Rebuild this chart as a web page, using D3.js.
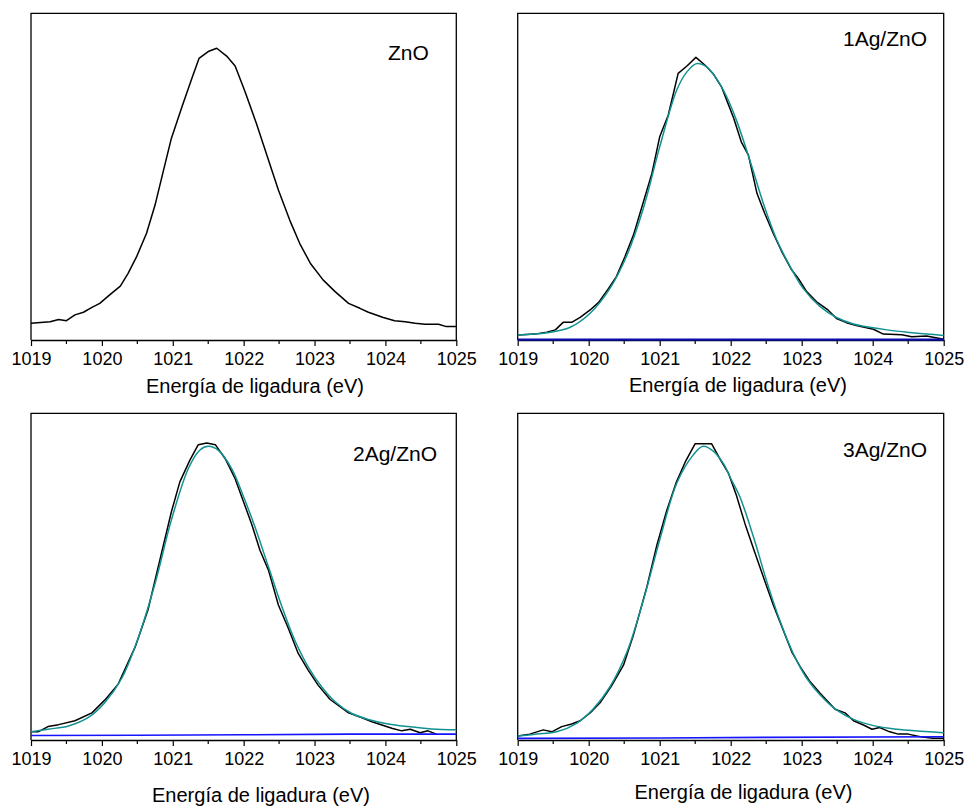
<!DOCTYPE html>
<html><head><meta charset="utf-8">
<script src="https://cdn.jsdelivr.net/npm/d3@7"></script>
<style>
body{margin:0;background:#fff}
svg text{font-family:Arial,"Liberation Sans",sans-serif;fill:#000}
</style>
</head><body>
<svg id="chart" width="966" height="809"></svg>
<script>
// ---------- data ----------
const tickValues = [1019, 1020, 1021, 1022, 1023, 1024, 1025];
const tickLabels = ["1019", "1020", "1021", "1022", "1023", "1024", "1025"];
const minorTicks = [1019.5, 1020.5, 1021.5, 1022.5, 1023.5, 1024.5];
const xTitle = "Energía de ligadura (eV)";
const sampleNames = ["ZnO", "1Ag/ZnO", "2Ag/ZnO", "3Ag/ZnO"];

// ZnO (experimental only)
const znoE = [1019.0,1019.27,1019.39,1019.50,1019.62,1019.74,1019.86,1019.97,1020.11,1020.26,1020.37,1020.49,1020.63,1020.75,1020.87,1020.98,1021.13,1021.27,1021.37,1021.50,1021.62,1021.76,1021.88,1022.02,1022.18,1022.35,1022.49,1022.65,1022.79,1022.94,1023.12,1023.29,1023.48,1023.64,1023.76,1023.97,1024.13,1024.28,1024.42,1024.56,1024.75,1024.86,1025.0];
const znoI = [5.1,5.6,6.3,5.9,7.7,8.5,10.0,11.2,13.8,16.5,20.4,25.5,32.7,41.3,52.0,61.7,71.4,80.1,86.2,88.3,89.3,86.9,83.9,76.0,66.3,55.1,45.9,36.7,29.6,23.5,18.4,14.8,11.2,9.7,8.5,6.9,5.9,5.6,5.1,4.8,4.8,4.1,4.1];

// 1Ag/ZnO
const ag1E = [1019.0,1019.24,1019.41,1019.53,1019.64,1019.76,1019.88,1020.02,1020.14,1020.28,1020.39,1020.51,1020.63,1020.75,1020.89,1021.00,1021.12,1021.26,1021.38,1021.51,1021.64,1021.75,1021.87,1021.96,1022.04,1022.15,1022.25,1022.37,1022.48,1022.60,1022.72,1022.86,1022.95,1023.07,1023.21,1023.37,1023.49,1023.63,1023.77,1024.01,1024.15,1024.41,1024.55,1024.76,1025.0];
const ag1I = [1.5,1.8,2.4,3.1,5.4,5.4,6.9,9.2,11.5,15.8,19.4,25.5,32.1,40.8,51.0,62.2,68.8,81.6,83.8,86.5,84.1,81.6,77.5,72.5,68.0,60.6,56.6,44.9,38.7,32.6,27.0,21.4,18.9,14.8,11.7,9.2,6.6,5.3,4.4,3.3,1.8,1.6,1.0,1.2,0.2];
const ag1FitE = [1019.0,1019.41,1019.74,1020.02,1020.30,1020.54,1020.77,1021.00,1021.24,1021.38,1021.52,1021.66,1021.80,1021.94,1022.08,1022.27,1022.46,1022.65,1022.84,1023.02,1023.26,1023.49,1023.73,1023.96,1024.20,1024.48,1024.76,1025.0];
const ag1FitI = [1.5,2.2,3.9,8.2,15.8,26.0,40.3,59.1,76.5,82.0,84.6,83.6,80.0,74.6,67.3,55.0,41.8,30.6,22.4,15.8,10.2,6.9,4.9,3.9,3.1,2.4,1.8,1.4];
const ag1BgE = [1019.0, 1025.0];
const ag1BgI = [0.1, 0.1];

// 2Ag/ZnO
const ag2E = [1019.0,1019.10,1019.24,1019.39,1019.62,1019.86,1020.04,1020.23,1020.47,1020.65,1020.84,1020.98,1021.10,1021.24,1021.36,1021.48,1021.60,1021.74,1021.88,1021.99,1022.11,1022.23,1022.35,1022.49,1022.63,1022.77,1022.91,1023.05,1023.22,1023.48,1023.66,1023.81,1023.95,1024.09,1024.23,1024.35,1024.49,1024.60,1024.72];
const ag2I = [2.5,2.5,4.1,4.7,5.9,8.3,12.2,17.1,28.5,39.8,57.1,69.8,79.0,85.6,90.4,90.9,90.4,86.1,80.0,73.4,66.3,58.1,52.0,41.3,34.2,26.5,21.4,16.8,12.4,8.3,6.9,5.6,4.6,3.6,2.8,3.3,2.2,2.8,1.8];
const ag2FitE = [1019.0,1019.24,1019.53,1019.81,1020.04,1020.28,1020.51,1020.75,1020.98,1021.22,1021.38,1021.50,1021.64,1021.83,1022.00,1022.16,1022.35,1022.54,1022.72,1022.91,1023.10,1023.29,1023.52,1023.76,1024.04,1024.32,1024.65,1025.0];
const ag2FitI = [2.5,3.3,4.3,6.9,11.4,18.9,31.1,47.9,67.3,83.1,88.7,89.9,88.7,83.1,74.4,65.2,53.0,40.8,30.6,22.4,16.3,11.7,8.2,6.3,4.9,4.1,3.4,3.1];
const ag2BgE = [1019.0, 1020.5, 1022.0, 1023.5, 1025.0];
const ag2BgI = [1.4, 1.45, 1.6, 1.8, 1.8];

// 3Ag/ZnO
const ag3E = [1019.0,1019.17,1019.36,1019.48,1019.62,1019.76,1019.88,1020.02,1020.16,1020.32,1020.49,1020.63,1020.82,1020.96,1021.10,1021.23,1021.36,1021.50,1021.73,1021.86,1021.97,1022.08,1022.20,1022.32,1022.46,1022.60,1022.74,1022.86,1022.98,1023.12,1023.26,1023.47,1023.61,1023.73,1023.87,1023.99,1024.10,1024.24,1024.36,1024.50,1024.67,1024.85,1025.0];
const ag3I = [1.2,1.8,3.1,2.5,4.1,4.9,5.9,8.3,11.4,16.5,22.9,32.1,46.9,59.6,70.3,78.7,85.1,90.7,90.7,85.6,81.6,74.9,66.3,58.6,49.9,41.3,33.6,27.0,22.4,17.8,14.3,9.4,8.3,5.9,4.6,3.3,3.8,2.5,1.8,1.8,1.0,0.5,0.5];
const ag3FitE = [1019.0,1019.27,1019.55,1019.83,1020.06,1020.30,1020.54,1020.77,1021.00,1021.24,1021.47,1021.61,1021.75,1021.90,1021.99,1022.13,1022.32,1022.51,1022.69,1022.88,1023.07,1023.26,1023.49,1023.73,1024.01,1024.34,1024.67,1025.0];
const ag3FitI = [1.2,1.8,2.5,5.1,9.4,16.3,27.0,42.8,61.2,78.6,87.2,89.9,88.5,84.5,80.5,74.4,62.2,48.4,36.7,26.5,18.9,13.8,9.2,6.3,4.4,3.3,2.7,2.2];
const ag3BgE = [1019.0, 1021.0, 1022.5, 1025.0];
const ag3BgI = [0.5, 0.6, 0.8, 1.0];

// ---------- layout ----------
const panels = [
  {name: sampleNames[0], left: 31, right: 456.3, top: 13.3, bottom: 340, titleX: 255, titleY: 393, labX: 388, labY: 60,
   exp: [znoE, znoI], fit: null, bg: null, bgColor: null, bgWidth: 0},
  {name: sampleNames[1], left: 517.7, right: 943.7, top: 13.3, bottom: 340, titleX: 738, titleY: 392, labX: 843, labY: 45.7,
   exp: [ag1E, ag1I], fit: [ag1FitE, ag1FitI], bg: [ag1BgE, ag1BgI], bgColor: "#0c0caa", bgWidth: 2.2},
  {name: sampleNames[2], left: 31, right: 456.3, top: 413.3, bottom: 740, titleX: 261, titleY: 801.5, labX: 353, labY: 461,
   exp: [ag2E, ag2I], fit: [ag2FitE, ag2FitI], bg: [ag2BgE, ag2BgI], bgColor: "#1414ff", bgWidth: 1.6},
  {name: sampleNames[3], left: 517.7, right: 943.7, top: 413.3, bottom: 740, titleX: 743.5, titleY: 798.5, labX: 843, labY: 456.7,
   exp: [ag3E, ag3I], fit: [ag3FitE, ag3FitI], bg: [ag3BgE, ag3BgI], bgColor: "#1414ff", bgWidth: 1.6}
];

const svg = d3.select("#chart");
const font = 'Arial, "Liberation Sans", sans-serif';

panels.forEach(p => {
  const x = d3.scaleLinear().domain([1019, 1025]).range([p.left, p.right]);
  const y = d3.scaleLinear().domain([0, 100]).range([p.bottom, p.top]);
  const g = svg.append("g");

  const line = d3.line().x(d => x(d[0])).y(d => y(d[1]));
  const smooth = d3.line().x(d => x(d[0])).y(d => y(d[1])).curve(d3.curveCatmullRom.alpha(0.5));
  const zip = (a) => a[0].map((e, i) => [e, a[1][i]]);

  // frame (left, top, right)
  g.append("path")
    .attr("d", `M${p.left},${p.bottom}V${p.top}H${p.right}V${p.bottom}`)
    .attr("fill", "none").attr("stroke", "#000").attr("stroke-width", 1.3);

  // bottom axis
  const axis = d3.axisBottom(x).tickValues(tickValues)
    .tickFormat((d, i) => tickLabels[i]).tickSizeInner(6).tickSizeOuter(0).tickPadding(6);
  const ax = g.append("g").attr("transform", `translate(0,${p.bottom})`).call(axis);
  ax.select(".domain").attr("stroke", "#000").attr("stroke-width", 1.3);
  ax.selectAll(".tick line").attr("stroke", "#000").attr("stroke-width", 1.2);
  ax.selectAll(".tick text").attr("font-size", 18).attr("font-family", font).attr("fill", "#000");
  ax.selectAll(".minor").data(minorTicks).enter().append("line")
    .attr("class", "minor")
    .attr("x1", d => x(d)).attr("x2", d => x(d)).attr("y1", 0).attr("y2", 4)
    .attr("stroke", "#000").attr("stroke-width", 1.2);

  // experimental curve
  g.append("path").datum(zip(p.exp)).attr("d", line)
    .attr("fill", "none").attr("stroke", "#000").attr("stroke-width", 1.5).attr("stroke-linejoin", "round");
  // fit
  if (p.fit) {
    g.append("path").datum(zip(p.fit)).attr("d", smooth)
      .attr("fill", "none").attr("stroke", "#119191").attr("stroke-width", 1.5);
  }
  // background
  if (p.bg) {
    g.append("path").datum(zip(p.bg)).attr("d", line)
      .attr("fill", "none").attr("stroke", p.bgColor).attr("stroke-width", p.bgWidth);
  }

  // sample label
  g.append("text").attr("x", p.labX).attr("y", p.labY)
    .attr("font-size", 21).attr("font-family", font).text(p.name);
  // axis title
  g.append("text").attr("x", p.titleX).attr("y", p.titleY).attr("text-anchor", "middle")
    .attr("font-size", 20).attr("font-family", font).text(xTitle);
});
</script>
</body></html>
